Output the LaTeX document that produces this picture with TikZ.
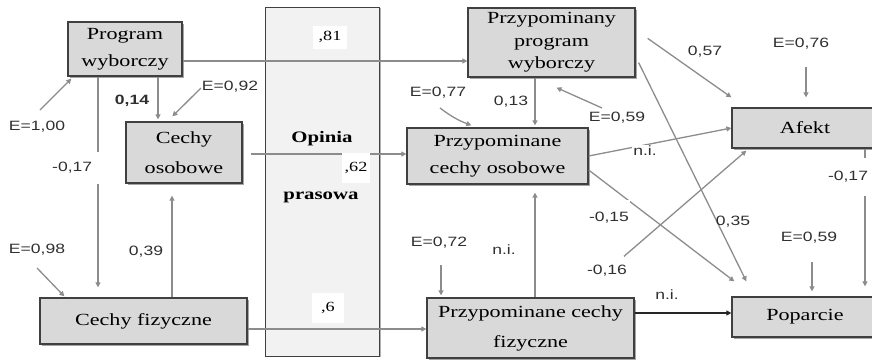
\documentclass[tikz,border=0pt]{standalone}
\usepackage{fontspec}
\usetikzlibrary{arrows.meta,calc,shadows}
\newfontfamily\boxfont{Liberation Serif}[FakeStretch=1.3]
\newfontfamily\lblfont{Liberation Sans}[FakeStretch=1.3]
\definecolor{boxfill}{HTML}{D9D9D9}
\definecolor{boxline}{HTML}{404040}
\definecolor{colfill}{HTML}{F2F2F2}
\definecolor{linkgray}{HTML}{8C8C8C}
\definecolor{lbltext}{HTML}{303030}
\begin{document}
\begin{tikzpicture}[x=1pt,y=-1pt,
  box/.style={draw=boxline, line width=1.3pt, fill=boxfill, align=center, inner sep=0pt,
    font=\boxfont\fontsize{17}{27}\selectfont,
    drop shadow={shadow xshift=1.5pt, shadow yshift=-1.5pt, fill=black!35, opacity=1}},
  colbox/.style={draw=boxline, line width=1pt, fill=colfill, inner sep=0pt,
    drop shadow={shadow xshift=2pt, shadow yshift=-1pt, fill=black!30, opacity=1}},
  coltitle/.style={font=\boxfont\fontsize{16}{18}\selectfont\bfseries, inner sep=1pt},
  collbl/.style={fill=white, inner sep=0pt, font=\boxfont\fontsize{14}{16}\selectfont},
  lbl/.style={font=\lblfont\fontsize{13.5}{16}\selectfont, text=lbltext, inner sep=1pt},
  arr/.style={draw=linkgray, line width=1.3pt, -{Triangle[length=5pt,width=5pt]}},
  arrk/.style={draw=black!85, line width=1.3pt, -{Triangle[length=5pt,width=5pt]}}]
\useasboundingbox (0,0) rectangle (872,360);
\clip (0,0) rectangle (872,360);

% press opinion column
\node[colbox, minimum width=114, minimum height=349] (op) at (322,181.5) {};
\node[coltitle] (opt1) at (322,139) {Opinia};
\node[coltitle] (opt2) at (321,197) {prasowa};

% variables
\node[box, minimum width=114, minimum height=54] (pw) at (125,49) {Program\\wyborczy};
\node[box, minimum width=116, minimum height=61, font=\boxfont\fontsize{17}{30}\selectfont] (co) at (184,152.5) {Cechy\\osobowe};
\node[box, minimum width=207, minimum height=46] (cf) at (143.5,321) {Cechy fizyczne};
\node[box, minimum width=167, minimum height=69, font=\boxfont\fontsize{17}{22.5}\selectfont] (ppw) at (551.5,42.5) {Przypominany\\program\\wyborczy};
\node[box, minimum width=181, minimum height=56] (pco) at (497.5,156) {Przypominane\\cechy osobowe};
\node[box, minimum width=207, minimum height=60, font=\boxfont\fontsize{17}{30}\selectfont] (pcf) at (530.5,328) {Przypominane cechy\\fizyczne};
\node[box, minimum width=146, minimum height=40] (af) at (805,128) {Afekt};
\node[box, minimum width=146, minimum height=40] (pop) at (805,317) {Poparcie};

% paths through the press column
\draw[arr] (pw.east |- 0,61) -- (ppw.west |- 0,61);
\node[collbl, minimum width=34, minimum height=23] (l81) at (330,37) {,81};
\draw[arr, shorten <=8pt] (co.east |- 0,154) -- (pco.west |- 0,154);
\node[collbl, minimum width=28, minimum height=30] (l62) at (356,168) {,62};
\draw[arr] (cf.east |- 0,329) -- (pcf.west |- 0,329);
\node[collbl, minimum width=32, minimum height=30] (l6) at (328,308) {,6};

% left block
\draw[arr, shorten >=2pt] (158,0 |- pw.south) -- (158,0 |- co.north);
\node[lbl, font=\lblfont\fontsize{13.5}{16}\selectfont\bfseries] (l014) at (132,101) {0,14};
\draw[arr, shorten >=10pt] (98,0 |- pw.south) -- (98,0 |- cf.north);
\node[lbl, fill=white, anchor=west, text width=46, align=left, minimum height=32] (l017a) at (51,168) {-0,17};
\draw[arr, shorten >=12pt] (172,0 |- cf.north) -- (172,0 |- co.south);
\node[lbl] (l039) at (146,252) {0,39};

\node[lbl] (e100) at (37,127) {E=1,00};
\draw[arr] ($(e100)+(3,-17)$) -- ($(pw.south west)+(4,2)$);
\node[lbl] (e092) at (230,87) {E=0,92};
\draw[arr] ($(e092)+(-29,1)$) -- ($(co.north west)+(47,-5)$);
\node[lbl] (e098) at (37,250) {E=0,98};
\draw[arr] ($(e098)+(0,18)$) -- ($(cf.north west)+(25,-1)$);

% middle block
\draw[arr, shorten >=2pt] (535,0 |- ppw.south) -- (535,0 |- pco.north);
\node[lbl] (l013) at (511,102) {0,13};
\draw[arr, shorten >=8pt] (535,0 |- pcf.north) -- (535,0 |- pco.south);
\node[lbl] (lni1) at (504,250) {n.i.};

\node[lbl] (e077) at (438,93) {E=0,77};
\draw[arr] ($(e077)+(2,15)$) to[bend right=8] ($(pco.north west)+(65,-2)$);
\node[lbl] (e059a) at (617,118) {E=0,59};
\draw[arr] ($(e059a)+(-15,-10)$) -- ($(ppw.south)+(5,10)$);
\node[lbl] (e072) at (439,243) {E=0,72};
\draw[arr, shorten >=2pt] ($(e072)+(2,22)$) -- (441,0 |- pcf.north);

% right block
\draw[arr] ($(ppw.north east)+(12,31)$) -- ($(af.north west)+(0,-10)$);
\node[lbl] (l057) at (705,52) {0,57};
\node[lbl] (e076) at (801,44) {E=0,76};
\draw[arr, shorten >=10pt] ($(e076)+(5,23)$) -- (806,0 |- af.north);

\draw[arr] ($(ppw.south east)+(3,-15)$) -- ($(pop.north west)+(15,-15)$);
\node[lbl] (l035) at (733,222) {0,35};
\draw[arr] (pco.east |- 0,170) -- ($(pop.north west)+(3,-15)$);
\node[lbl, fill=white, text height=20pt] (l015) at (609,212) {-0,15};
\draw[arr] (pco.east) -- (af.west);
\node[lbl, fill=white] (lni2) at (645,151) {n.i.};
\node[lbl, fill=white] (l016) at (607,271) {-0,16};
\draw[arr, shorten <=12pt] (l016) -- ($(af.south west)+(15,2)$);

\draw[arr, shorten >=10pt] (865,0 |- af.south) -- (865,0 |- pop.north);
\node[lbl, fill=white, minimum height=38] (l017b) at (848,177) {-0,17};
\node[lbl] (e059b) at (809,238) {E=0,59};
\draw[arr, shorten >=5pt] ($(e059b)+(3,24)$) -- (812,0 |- pop.north);

\draw[arrk] (pcf.east |- 0,313) -- (pop.west |- 0,313);
\node[lbl] (lni3) at (667,295) {n.i.};
\end{tikzpicture}
\end{document}
